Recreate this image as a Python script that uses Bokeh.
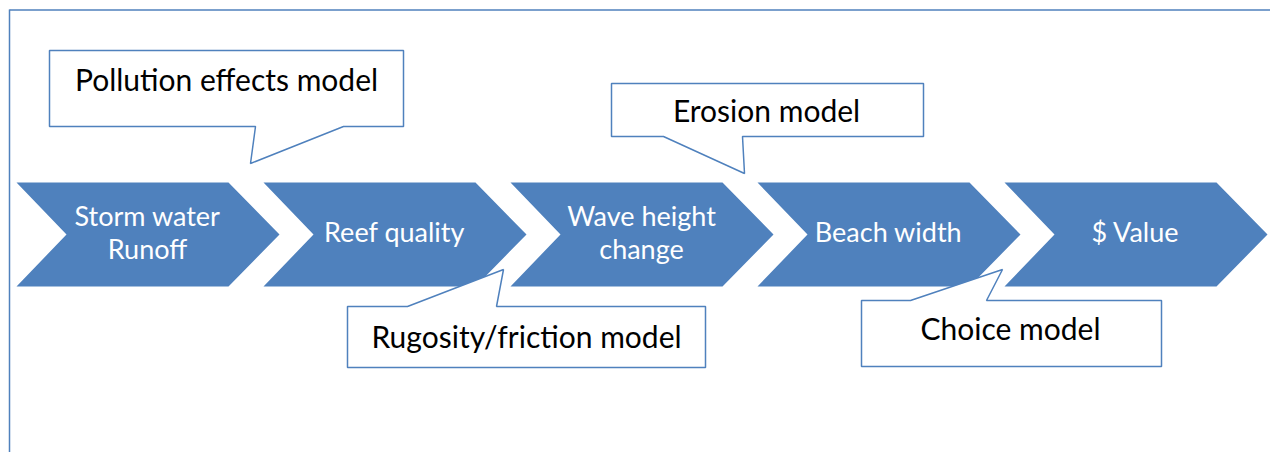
from bokeh.plotting import figure
from bokeh.models import Range1d
from bokeh.core.properties import value
from bokeh.embed import file_html
from bokeh.resources import INLINE

# ---- data ----
steps = ["Storm water\nRunoff", "Reef quality", "Wave height\nchange", "Beach width", "$ Value"]
models = ["Pollution effects model", "Erosion model", "Rugosity/friction model", "Choice model"]

# ---- layout (pixels, page coordinates) ----
BLUE = "#4F81BD"
FONT = "Lato"
CH_LEFT0, CH_PITCH = 16, 247
CH_TOP, CH_BOT = 182, 286
CH_BODY, CH_TIP, CH_NOTCH = 212, 263, 50
TEXT_DY = -3

# callout boxes: x0, x1, y0, y1, tail base left, tail base right, tail point x, y, side, text x, text y
callouts = [
    (49, 403, 50, 126, 255, 343, 250, 163, "bottom", 226, 81),
    (611, 923, 83, 136, 663, 742, 744, 173, "bottom", 766, 112),
    (347, 705, 306, 367, 407, 496, 503, 269, "top", 526, 338),
    (861, 1161, 300, 366, 910, 986, 1002, 269, "top", 1010, 330),
]

p = figure(width=1270, height=452, output_backend="svg", toolbar_location=None,
           x_range=Range1d(0, 1270), y_range=Range1d(452, 0),
           x_axis_type=None, y_axis_type=None, min_border=0,
           outline_line_color=None, background_fill_color="white")
p.grid.visible = False

# frame lines (top and left)
p.segment(x0=[9, 9], y0=[9.5, 9], x1=[1270, 9], y1=[9.5, 452], line_color=BLUE, line_width=1.5)

# chevrons
mid = (CH_TOP + CH_BOT) / 2
xs, ys, tx, ty = [], [], [], []
for i, s in enumerate(steps):
    L = CH_LEFT0 + i * CH_PITCH
    xs.append([L, L + CH_BODY, L + CH_TIP, L + CH_BODY, L, L + CH_NOTCH])
    ys.append([CH_TOP, CH_TOP, mid, CH_BOT, CH_BOT, mid])
    tx.append(L + (CH_NOTCH + CH_BODY) / 2)
    ty.append(mid + TEXT_DY)
p.patches(xs=xs, ys=ys, fill_color=BLUE, line_color=None)
p.text(x=tx, y=ty, text=steps, text_color="white", text_align="center", text_baseline="middle",
       text_font=value(FONT), text_font_size="27px", text_line_height=1.0)

# callouts
cxs, cys, ctx, cty = [], [], [], []
for (x0, x1, y0, y1, tl, tr, px, py, side, txx, tyy) in callouts:
    if side == "bottom":
        cxs.append([x0, x1, x1, tr, px, tl, x0])
        cys.append([y0, y0, y1, y1, py, y1, y1])
    else:
        cxs.append([x0, tl, px, tr, x1, x1, x0])
        cys.append([y0, y0, py, y0, y0, y1, y1])
    ctx.append(txx)
    cty.append(tyy + TEXT_DY)
p.patches(xs=cxs, ys=cys, fill_color="white", line_color=BLUE, line_width=1.5)
p.text(x=ctx, y=cty, text=models, text_color="black", text_align="center", text_baseline="middle",
       text_font=value(FONT), text_font_size="30px")

open("out.html", "w").write(file_html(p, INLINE))
